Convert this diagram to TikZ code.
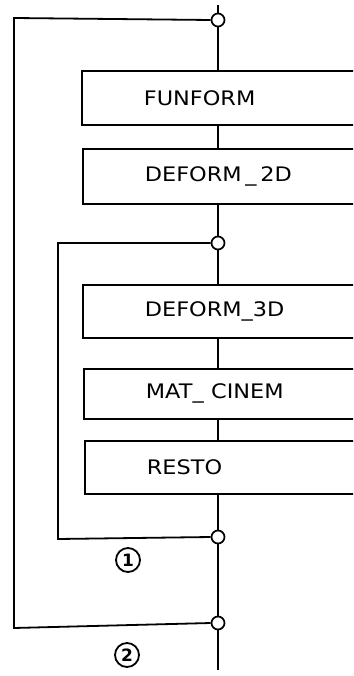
\documentclass[tikz,border=0pt]{standalone}
\usepackage{fontspec}
\setmainfont{DejaVu Sans}
\begin{document}
\begin{tikzpicture}[x=1pt,y=-1pt,line width=1.8pt,
  blk/.style={draw,rectangle,anchor=north west,minimum height=#1,text width=157pt,
    inner xsep=62pt,inner ysep=0pt,align=left,font=\fontsize{20}{20}\selectfont},
  jn/.style={draw,circle,fill=white,inner sep=0pt,minimum size=13pt,line width=1.7pt},
  num/.style={draw,circle,inner sep=0pt,minimum size=24pt,line width=1.8pt,font=\fontsize{17}{17}\selectfont\bfseries}]
\clip (0,0) rectangle (353,676);
\fill[white] (0,0) rectangle (353,676);
% boxes
\node[blk=54pt] (b1) at (81,70) {\scalebox{1.12}[1]{FUNFORM}};
\node[blk=55pt] (b2) at (82,148) {\scalebox{1.12}[1]{DEFORM\,\_\,2D}};
\node[blk=53pt] (b3) at (82,284) {\scalebox{1.12}[1]{DEFORM\_3D}};
\node[blk=50pt] (b4) at (83,368) {\scalebox{1.12}[1]{MAT\_ CINEM}};
\node[blk=53pt] (b5) at (84,440) {\scalebox{1.12}[1]{RESTO}};
% junctions
\coordinate (top) at (218,5);
\coordinate (bot) at (218,670);
\node[jn] (c1) at (218,20) {};
\node[jn] (c2) at (218,243) {};
\node[jn] (c3) at (218,537) {};
\node[jn] (c4) at (218,623) {};
% loop corners
\coordinate (o1) at (14,18);
\coordinate (o2) at (14,628);
\coordinate (i1) at (58,243);
\coordinate (i2) at (58,539);
% main line
\draw (top) -- (c1);
\draw (c1) -- (c1 |- b1.north);
\draw (c1 |- b1.south) -- (c1 |- b2.north);
\draw (c1 |- b2.south) -- (c2);
\draw (c2) -- (c2 |- b3.north);
\draw (c2 |- b3.south) -- (c2 |- b4.north);
\draw (c2 |- b4.south) -- (c2 |- b5.north);
\draw (c3 |- b5.south) -- (c3);
\draw (c3) -- (c4);
\draw (c4) -- (bot);
% loops
\draw (c1.west) -- (o1) -- (o2) -- (c4.west);
\draw (c2.west) -- (i1) -- (i2) -- (c3.west);
% labels
\node[num] (n1) at (128,560) {1};
\node[num] (n2) at (127,655) {2};
\end{tikzpicture}
\end{document}
